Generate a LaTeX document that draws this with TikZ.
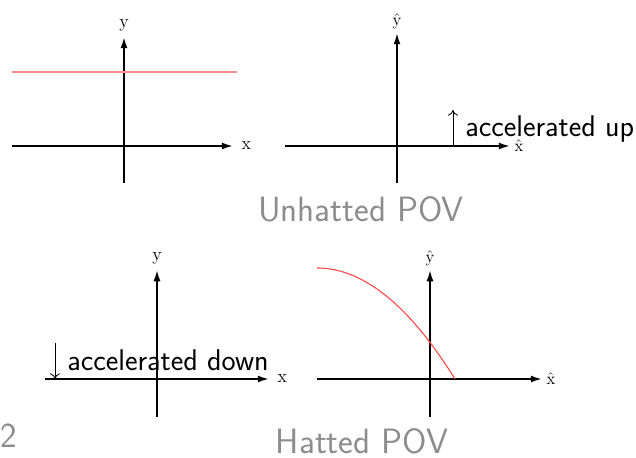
\documentclass[tikz,border=0pt]{standalone}
\usetikzlibrary{arrows.meta}
\begin{document}
\begin{tikzpicture}[x=0.025cm,y=-0.025cm,
    axis/.style={line width=1.3pt,-{Latex[length=8pt,width=5pt]}},
    axislbl/.style={font=\fontsize{13}{15}\selectfont,inner sep=1pt},
    accel/.style={font=\sffamily\fontsize{21.3}{24}\selectfont,inner sep=0pt},
    accarrow/.style={line width=0.6pt,-{To[length=4pt,width=7pt]}},
    povtext/.style={font=\sffamily\fontsize{25}{28}\selectfont,text=black!45,inner sep=0pt}]
    \useasboundingbox (0,0) rectangle (636,458);

    % 左上：不带帽坐标系
    \coordinate (x1l) at (12,146);
    \coordinate (x1r) at (233,146);
    \coordinate (y1b) at (124,183);
    \coordinate (y1t) at (124,37);
    \draw[axis] (x1l) -- (x1r);
    \draw[axis] (y1b) -- (y1t);
    \node[axislbl, right=5pt] (x1) at (x1r) {x};
    \node[axislbl, above=3pt] (y1) at (y1t) {y};
    \coordinate (r1l) at (12,72);
    \coordinate (r1r) at (237,72);
    \draw[red!45, line width=0.8pt] (r1l) -- (r1r);

    % 右上：带帽坐标系
    \coordinate (x2l) at (285,146);
    \coordinate (x2r) at (510,146);
    \coordinate (y2b) at (397,183);
    \coordinate (y2t) at (397,33);
    \draw[axis] (x2l) -- (x2r);
    \draw[axis] (y2b) -- (y2t);
    \node[axislbl, right=2pt] (x2) at (x2r) {$\hat{\mathrm{x}}$};
    \node[axislbl, above=2pt] (y2) at (y2t) {$\hat{\mathrm{y}}$};
    \coordinate (up0) at (453,146);
    \coordinate (up1) at (453,110);
    \draw[accarrow] (up0) -- (up1);
    \node[accel, anchor=base west] (upt) at (465,137) {accelerated up};

    \node[povtext, anchor=base] (pov1) at (361,222) {Unhatted POV};

    % 左下：不带帽坐标系
    \coordinate (x3l) at (45,379);
    \coordinate (x3r) at (269,379);
    \coordinate (y3b) at (157,417);
    \coordinate (y3t) at (157,270);
    \draw[axis] (x3l) -- (x3r);
    \draw[axis] (y3b) -- (y3t);
    \node[axislbl, right=5pt] (x3) at (x3r) {x};
    \node[axislbl, above=3pt] (y3) at (y3t) {y};
    \coordinate (dn0) at (55,343);
    \coordinate (dn1) at (55,379);
    \draw[accarrow] (dn0) -- (dn1);
    \node[accel, anchor=base west] (dnt) at (67,370) {accelerated down};

    % 右下：带帽坐标系
    \coordinate (x4l) at (317,379);
    \coordinate (x4r) at (542,379);
    \coordinate (y4b) at (430,417);
    \coordinate (y4t) at (430,270);
    \draw[axis] (x4l) -- (x4r);
    \draw[axis] (y4b) -- (y4t);
    \node[axislbl, right=2pt] (x4) at (x4r) {$\hat{\mathrm{x}}$};
    \node[axislbl, above=2pt] (y4) at (y4t) {$\hat{\mathrm{y}}$};
    \draw[red!70, line width=0.8pt, domain=317:455, samples=40, smooth]
        plot (\x, {268+111*((\x-317)/138)^2});

    \node[povtext, anchor=base] (pov2) at (362,453) {Hatted POV};
    \node[povtext, anchor=base west] (pnum) at (0,447) {2};
\end{tikzpicture}
\end{document}
